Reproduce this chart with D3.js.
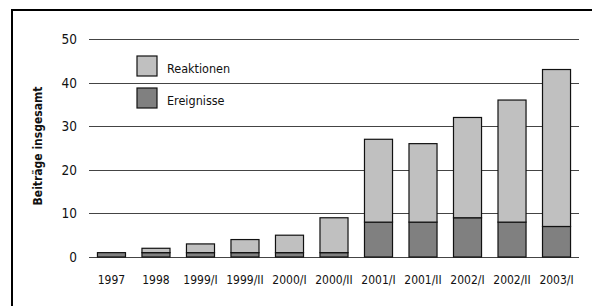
<!DOCTYPE html>
<html lang="de">
<head>
	<meta charset="utf-8">
	<title>Beiträge insgesamt</title>
	<script src="https://d3js.org/d3.v7.min.js"></script>
	<style>
	body { margin: 0; background: #fff; }
	text {
		font-family: "DejaVu Sans Condensed", "DejaVu Sans", sans-serif;
		font-stretch: condensed;
		fill: #111;
	}
	</style>
</head>
<body>
	<script>
	// Data
	var categories = ["1997", "1998", "1999/I", "1999/II", "2000/I", "2000/II",
		"2001/I", "2001/II", "2002/I", "2002/II", "2003/I"];
	var ereignisse = [1, 1, 1, 1, 1, 1, 8, 8, 9, 8, 7];
	var reaktionen = [0, 1, 2, 3, 4, 8, 19, 18, 23, 28, 36];
	var yTicks = [0, 10, 20, 30, 40, 50];
	var seriesNames = ["Reaktionen", "Ereignisse"];
	var seriesColors = ["#c0c0c0", "#808080"];

	var w = 592, h = 306;

	var svg = d3.select("body").append("svg")
		.attr("width", w)
		.attr("height", h);

	var x = d3.scaleBand()
		.domain(categories)
		.range([89, 579])
		.paddingInner(0.37)
		.paddingOuter(0.19);

	var y = d3.scaleLinear()
		.domain([0, 50])
		.range([257, 39]);

	// frame (top and left only)
	svg.append("line")
		.attr("x1", 11).attr("y1", 10).attr("x2", w).attr("y2", 10)
		.attr("stroke", "#000").attr("stroke-width", 2);
	svg.append("line")
		.attr("x1", 12).attr("y1", 9).attr("x2", 12).attr("y2", h)
		.attr("stroke", "#000").attr("stroke-width", 2);

	// gridlines + y labels
	svg.selectAll(".grid")
		.data(yTicks)
		.enter().append("line")
		.attr("x1", 89).attr("x2", 579)
		.attr("y1", function(d) { return Math.round(y(d)) + 0.5; })
		.attr("y2", function(d) { return Math.round(y(d)) + 0.5; })
		.attr("stroke", "#444").attr("stroke-width", 1.2);

	svg.selectAll(".ylab")
		.data(yTicks)
		.enter().append("text")
		.attr("x", 77)
		.attr("y", function(d) { return y(d) + 5; })
		.attr("text-anchor", "end")
		.style("font-size", "13.5px")
		.text(function(d) { return d; });

	// stacked bars
	var rows = categories.map(function(c, i) {
		return { cat: c, ereignisse: ereignisse[i], reaktionen: reaktionen[i] };
	});

	svg.selectAll(".ev")
		.data(rows)
		.enter().append("rect")
		.attr("x", function(d) { return x(d.cat); })
		.attr("y", function(d) { return y(d.ereignisse); })
		.attr("width", x.bandwidth())
		.attr("height", function(d) { return y(0) - y(d.ereignisse); })
		.attr("fill", seriesColors[1])
		.attr("stroke", "#111").attr("stroke-width", 1.2);

	svg.selectAll(".re")
		.data(rows.filter(function(d) { return d.reaktionen > 0; }))
		.enter().append("rect")
		.attr("x", function(d) { return x(d.cat); })
		.attr("y", function(d) { return y(d.ereignisse + d.reaktionen); })
		.attr("width", x.bandwidth())
		.attr("height", function(d) { return y(d.ereignisse) - y(d.ereignisse + d.reaktionen); })
		.attr("fill", seriesColors[0])
		.attr("stroke", "#111").attr("stroke-width", 1.2);

	// x labels
	svg.selectAll(".xlab")
		.data(categories)
		.enter().append("text")
		.attr("x", function(d) { return x(d) + x.bandwidth() / 2; })
		.attr("y", 284)
		.attr("text-anchor", "middle")
		.style("font-size", "12px")
		.text(function(d) { return d; });

	// y title
	svg.append("text")
		.attr("transform", "translate(42, 146) rotate(-90)")
		.attr("text-anchor", "middle")
		.style("font-size", "12px")
		.style("font-weight", "bold")
		.text("Beiträge insgesamt");

	// legend
	var legend = svg.selectAll(".leg")
		.data(seriesNames)
		.enter().append("g")
		.attr("transform", function(d, i) { return "translate(137," + (56 + i * 32) + ")"; });

	legend.append("rect")
		.attr("width", 20).attr("height", 20)
		.attr("fill", function(d, i) { return seriesColors[i]; })
		.attr("stroke", "#111").attr("stroke-width", 1.2);

	legend.append("text")
		.attr("x", 30).attr("y", 17)
		.style("font-size", "12.5px")
		.text(function(d) { return d; });
	</script>
</body>
</html>
